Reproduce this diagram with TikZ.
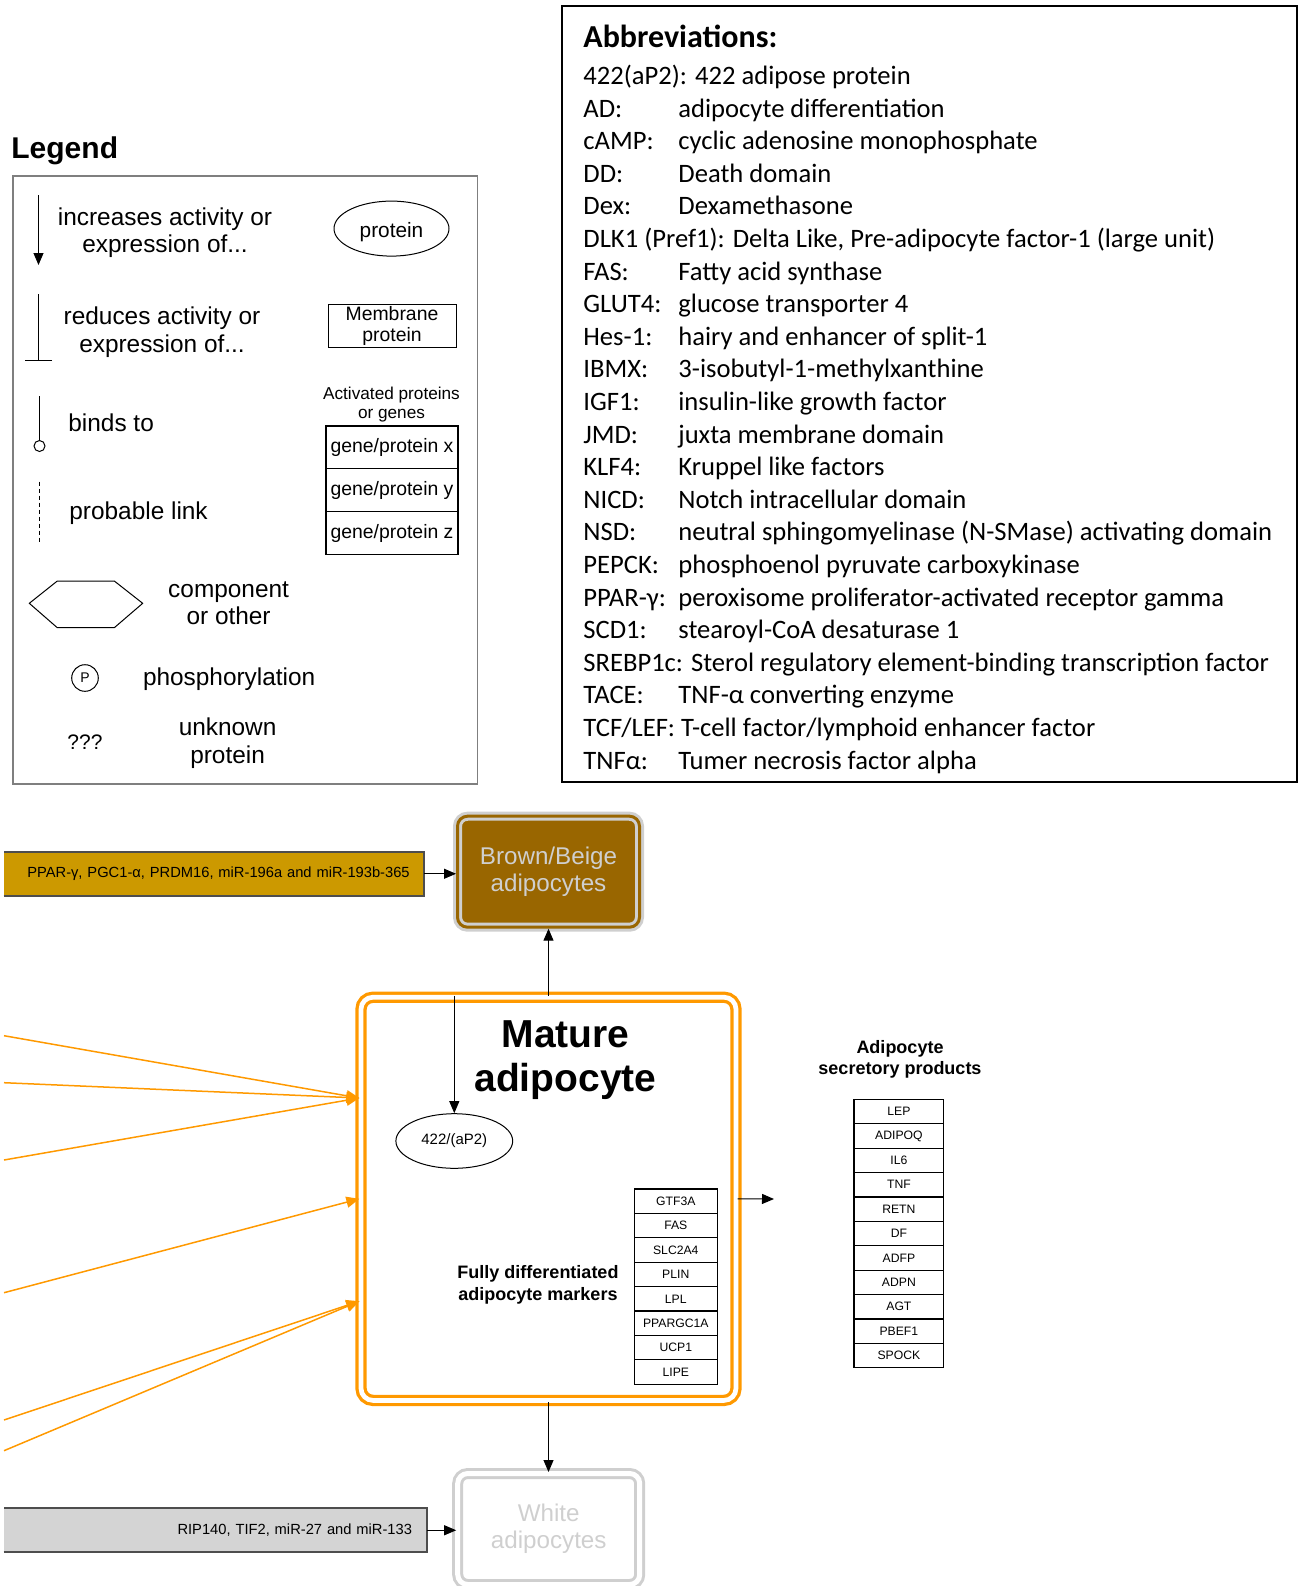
\documentclass[tikz,border=0pt]{standalone}
\usepackage{fontspec}
\setmainfont{Liberation Sans}
\newfontfamily\calibri{Carlito}
\usepackage{xcolor}
\usetikzlibrary{arrows.meta, positioning, shapes.geometric}

\definecolor{matorange}{HTML}{FF9900}
\definecolor{brownfat}{HTML}{996600}
\definecolor{brownbar}{HTML}{CC9900}
\definecolor{whitebar}{HTML}{D4D4D4}
\definecolor{ringgrey}{HTML}{CFCFCF}
\definecolor{bardark}{HTML}{4D4D4D}
\definecolor{legendline}{HTML}{7F7F7F}

\tikzset{
  arr/.style={-{Triangle[length=6pt,width=5pt]}, line width=0.5pt},
  orarr/.style={-{Triangle[length=6.5pt,width=5.5pt]}, matorange, line width=0.75pt},
  cell/.style={draw, line width=0.6pt, minimum height=12.2pt, inner sep=0pt,
               font=\fontsize{6.1}{7}\selectfont},
  legtext/.style={align=center, inner sep=0pt, font=\fontsize{12.2}{13.7}\selectfont},
  abbr/.style={anchor=west, inner sep=0pt, text height=8.6pt, text depth=0pt,
               font=\calibri\fontsize{13.3}{16}\selectfont},
  fatbox/.style={double, line width=1.5pt, rounded corners=5pt, align=center,
                 minimum width=91pt, minimum height=55.5pt,
                 font=\fontsize{12.1}{13.7}\selectfont},
  factorbar/.style={minimum height=21.75pt, inner ysep=0pt, align=right,
                    font=\fontsize{7.35}{9}\selectfont}
}

\begin{document}
\begin{tikzpicture}[x=0.5pt, y=-0.5pt]   % one unit = one pixel, y downwards
\useasboundingbox (0,0) rectangle (1299,1586);

% ---------------- legend
\node[anchor=west, inner sep=0pt, text height=10.7pt, text depth=0pt,
      font=\bfseries\fontsize{15}{18}\selectfont] (legtitle) at (11,147.5) {Legend};
\draw[legendline, line width=0.75pt] (13,176) rectangle (477.5,784);

\draw[arr] (38.5,195) -- (38.5,265);
\draw[-{Bar[width=13.5pt]}, line width=0.5pt] (38.5,294) -- (38.5,361);
\draw[-{Circle[open,length=6pt]}, line width=0.5pt] (39.5,396) -- (39.5,452);
\draw[line width=0.5pt, dash pattern=on 2pt off 1.5pt] (39.5,481.6) -- (39.5,543);
\draw[line width=0.5pt] (29.3,603.3) -- (57.3,581) -- (114.3,581) -- (142.7,603.3)
      -- (114.3,627.7) -- (57.3,627.7) -- cycle;  % component hexagon

\node[legtext] (incr) at (165,232.5) {increases activity or\\expression of...};
\node[legtext] (redu) at (162,332) {reduces activity or\\expression of...};
\node[legtext, anchor=west] (binds) at (68,422.5) {binds to};
\node[legtext, anchor=west] (prob) at (69,513) {probable link};
\node[legtext] (comp) at (228.6,603.5) {component\\or other};
\node[draw, circle, minimum size=13.3pt, inner sep=0pt, line width=0.5pt,
      font=\fontsize{7}{8}\selectfont] (phos) at (85,678) {P};
\node[legtext, anchor=west] (phostext) at (142.6,679) {phosphorylation};
\node[inner sep=0pt, font=\fontsize{10.5}{12}\selectfont] (unk) at (85,742.5) {???};
\node[legtext] (unktext) at (227.6,743) {unknown\\protein};

\node[draw, ellipse, minimum width=57.5pt, minimum height=27.5pt, inner sep=0pt,
      text height=8.4pt, text depth=0pt,
      line width=0.5pt, font=\fontsize{10.4}{12}\selectfont] (protein) at (391.5,228.6) {protein};
\node[draw, minimum width=64pt, minimum height=21.25pt, inner sep=0pt, line width=0.5pt,
      align=center, font=\fontsize{9.7}{10.6}\selectfont] (membrane) at (392,325.75) {Membrane\\protein};
\node[align=center, inner sep=0pt, font=\fontsize{8.6}{9.6}\selectfont] (activ) at (391.5,404.5) {Activated proteins\\or genes};
\foreach \g [count=\i] in {x,y,z}
  \node[draw, minimum width=66pt, minimum height=21.4pt, inner sep=0pt, line width=0.6pt,
        font=\fontsize{9.7}{11}\selectfont] (gene\g) at (392,404.6+42.8*\i) {gene/protein \g};

% ---------------- abbreviations
\draw[line width=1pt] (562,6) rectangle (1297,782);
\node[anchor=west, inner sep=0pt, text height=10.3pt, text depth=0pt,
      font=\calibri\bfseries\fontsize{16}{19}\selectfont] (abbrtitle) at (583,37.4) {Abbreviations:};
\foreach \k/\v [count=\i from 0] in {
    {422(aP2): 422 adipose protein}/{},
    AD:/{adipocyte differentiation},
    cAMP:/{cyclic adenosine monophosphate},
    DD:/{Death domain},
    Dex:/{Dexamethasone},
    {DLK1 (Pref1): Delta Like, Pre-adipocyte factor-1 (large unit)}/{},
    FAS:/{Fatty acid synthase},
    GLUT4:/{glucose transporter 4},
    Hes-1:/{hairy and enhancer of split-1},
    IBMX:/{3-isobutyl-1-methylxanthine},
    IGF1:/{insulin-like growth factor},
    JMD:/{juxta membrane domain},
    KLF4:/{Kruppel like factors},
    NICD:/{Notch intracellular domain},
    NSD:/{neutral sphingomyelinase (N-SMase) activating domain},
    PEPCK:/{phosphoenol pyruvate carboxykinase},
    PPAR-γ:/{peroxisome proliferator-activated receptor gamma},
    SCD1:/{stearoyl-CoA desaturase 1},
    {SREBP1c: Sterol regulatory element-binding transcription factor}/{},
    TACE:/{TNF-α converting enzyme},
    {TCF/LEF: T-cell factor/lymphoid enhancer factor}/{},
    TNFα:/{Tumer necrosis factor alpha}} {
  \node[abbr] (key\i) at (583,75.9+32.6*\i) {\k};
  \node[abbr] (val\i) at (678,75.9+32.6*\i) {\v};
}

% ---------------- adipocyte fates
\node[fatbox, draw=ringgrey, fill=brownfat, double=brownfat, text=ringgrey,
      double distance=1.5pt] (brown) at (548.5,871.7) {Brown/Beige\\adipocytes};
\node[fatbox, draw=ringgrey, double=white, text=ringgrey,
      double distance=2.5pt] (white) at (548.7,1529) {White\\adipocytes};

\node[factorbar, fill=brownbar, text width=195.7pt, inner xsep=7.15pt] (ppar) at (214,873.75)
     {PPAR-γ, PGC1-α, PRDM16, miR-196a and miR-193b-365};
\draw[bardark, line width=1pt] (ppar.south west) -| (ppar.north east) -- (ppar.north west);
\node[factorbar, fill=whitebar, text width=196.5pt, inner xsep=7.5pt] (rip) at (215.5,1530.25)
     {RIP140, TIF2, miR-27 and miR-133};
\draw[bardark, line width=1pt] (rip.south west) -| (rip.north east) -- (rip.north west);

% mature adipocyte frame
\node[draw=matorange, double, line width=1.65pt, double distance=2.35pt, rounded corners=6pt,
      minimum width=187.5pt, minimum height=201.6pt] (mature) at (548.5,1198.8) {};
\node[align=center, inner sep=0pt, font=\bfseries\fontsize{19.5}{22.25}\selectfont] (mattitle)
     at (565.5,1060) {Mature\\adipocyte};
\node[draw, ellipse, minimum width=58.4pt, minimum height=27.3pt, inner sep=0pt, line width=0.5pt,
      font=\fontsize{7.5}{9}\selectfont] (ap2) at (454.3,1141) {422/(aP2)};

\node[align=center, inner sep=0pt, font=\bfseries\fontsize{9}{10.85}\selectfont] (markhead)
     at (538,1284.5) {Fully differentiated\\adipocyte markers};
\foreach \g [count=\i] in {GTF3A,FAS,SLC2A4,PLIN,LPL,PPARGC1A,UCP1,LIPE}
  \node[cell, minimum width=41.5pt] (mk\i) at (675.8,1176.8+24.4*\i) {\g};

\node[align=center, inner sep=0pt, font=\bfseries\fontsize{9}{10.7}\selectfont] (sechead)
     at (900,1059.5) {Adipocyte\\secretory products};
\foreach \g [count=\i] in {LEP,ADIPOQ,IL6,TNF,RETN,DF,ADFP,ADPN,AGT,PBEF1,SPOCK}
  \node[cell, minimum width=44.85pt] (sec\i) at (898.9,1087.1+24.4*\i) {\g};

% connectors
\coordinate (secout) at (774,1199);
\draw[arr] (ppar.east) -- (ppar.east -| brown.west);
\draw[arr] (rip.east) -- (rip.east -| white.west);
\draw[arr] (mature.north) -- (mature.north |- brown.south);
\draw[arr] (mature.south) -- (mature.south |- white.north);
\draw[arr] (ap2.north |- mature.north) -- (ap2.north);
\draw[arr] (mature.east) -- (secout);

% inducers coming in from the left
\coordinate (in1) at ([yshift=50.4pt]mature.west);
\coordinate (in2) at (mature.west);
\coordinate (in3) at ([yshift=-51.2pt]mature.west);
\coordinate (src1) at (4,1035.7);
\coordinate (src2) at (4,1082.7);
\coordinate (src3) at (4,1160);
\coordinate (src4) at (4,1292.7);
\coordinate (src5) at (4,1420);
\coordinate (src6) at (4,1450.7);
\draw[orarr] (src1) -- (in1);
\draw[orarr] (src2) -- (in1);
\draw[orarr] (src3) -- (in1);
\draw[orarr] (src4) -- (in2);
\draw[orarr] (src5) -- (in3);
\draw[orarr] (src6) -- (in3);
\end{tikzpicture}
\end{document}
